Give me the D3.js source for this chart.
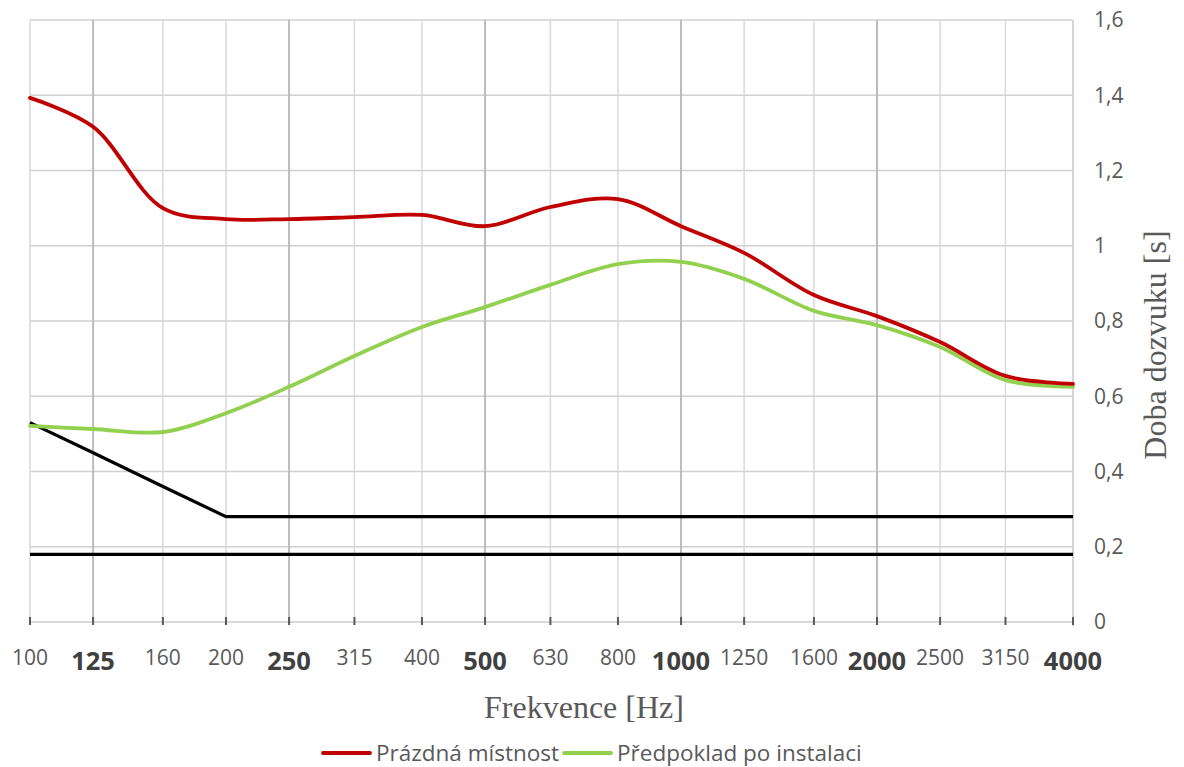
<!DOCTYPE html>
<html>
<head>
<meta charset="utf-8">
<script src="https://cdn.jsdelivr.net/npm/d3@7"></script>
<style>
  body { margin: 0; background: #fff; }
  svg { display: block; }
</style>
</head>
<body>
<svg id="chart" width="1184" height="767"></svg>
<script>
// ---- data ----
const frequencies = [100, 125, 160, 200, 250, 315, 400, 500, 630, 800, 1000, 1250, 1600, 2000, 2500, 3150, 4000];
const boldFrequencies = [125, 250, 500, 1000, 2000, 4000];
const emptyRoom = [1.393, 1.316, 1.10, 1.071, 1.071, 1.076, 1.082, 1.052, 1.103, 1.124, 1.052, 0.981, 0.869, 0.813, 0.744, 0.654, 0.633];
const afterInstall = [0.521, 0.513, 0.505, 0.555, 0.625, 0.707, 0.784, 0.837, 0.896, 0.951, 0.957, 0.912, 0.827, 0.789, 0.731, 0.643, 0.625];
const limitUpper = [0.53, 0.45, 0.36, 0.28, 0.28, 0.28, 0.28, 0.28, 0.28, 0.28, 0.28, 0.28, 0.28, 0.28, 0.28, 0.28, 0.28];
const limitLower = [0.18, 0.18, 0.18, 0.18, 0.18, 0.18, 0.18, 0.18, 0.18, 0.18, 0.18, 0.18, 0.18, 0.18, 0.18, 0.18, 0.18];
const yTicks = [0, 0.2, 0.4, 0.6, 0.8, 1, 1.2, 1.4, 1.6];
const xTitle = "Frekvence [Hz]";
const yTitle = "Doba dozvuku [s]";
const legendLabels = ["Prázdná místnost", "Předpoklad po instalaci"];

(function () {
// ---- layout ----
const svg = d3.select("#chart");
const pL = 30, pR = 1073, pT = 20, pB = 622;
const x = d3.scaleLog().domain([100, 4000]).range([pL, pR]);
const y = d3.scaleLinear().domain([0, 1.6]).range([pB, pT]);
const labelColor = "#595959";
const isBold = d => boldFrequencies.includes(d);

// horizontal grid
svg.append("g").selectAll("line").data(yTicks).join("line")
  .attr("x1", pL).attr("x2", pR)
  .attr("y1", d => y(d)).attr("y2", d => y(d))
  .attr("stroke", "#d0d0d0").attr("stroke-width", 1.5);

// vertical grid
svg.append("g").selectAll("line").data(frequencies).join("line")
  .attr("x1", d => x(d)).attr("x2", d => x(d))
  .attr("y1", pT).attr("y2", pB)
  .attr("stroke", d => isBold(d) && d !== 4000 ? "#bcbcbc" : "#d9d9d9")
  .attr("stroke-width", d => isBold(d) && d !== 4000 ? 2 : 1.5);

// right axis line
svg.append("line").attr("x1", pR).attr("x2", pR).attr("y1", pT).attr("y2", pB + 4)
  .attr("stroke", "#d0d0d0").attr("stroke-width", 1.5);

// bottom axis line
svg.append("line").attr("x1", pL).attr("x2", pR).attr("y1", pB).attr("y2", pB)
  .attr("stroke", "#d9d9d9").attr("stroke-width", 1.5);

// bottom ticks
svg.append("g").selectAll("line").data(frequencies).join("line")
  .attr("x1", d => x(d)).attr("x2", d => x(d))
  .attr("y1", pB - 5).attr("y2", pB + 3)
  .attr("stroke", "#595959").attr("stroke-width", 2);

// x labels
svg.append("g").selectAll("text").data(frequencies).join("text")
  .attr("x", d => x(d))
  .attr("y", d => isBold(d) ? 670 : 665)
  .attr("text-anchor", "middle")
  .attr("font-family", "'Open Sans', sans-serif")
  .attr("font-size", d => isBold(d) ? 25.5 : 21)
  .attr("font-weight", d => isBold(d) ? "bold" : "normal")
  .attr("fill", d => isBold(d) ? "#404040" : labelColor)
  .text(d => d);

// y labels
svg.append("g").selectAll("text").data(yTicks).join("text")
  .attr("x", 1094)
  .attr("y", d => y(d))
  .attr("dy", "0.35em")
  .attr("font-family", "'Open Sans', sans-serif")
  .attr("font-size", 21)
  .attr("fill", labelColor)
  .text(d => String(d).replace(".", ","));

// axis titles
svg.append("text").attr("x", 584).attr("y", 718)
  .attr("text-anchor", "middle")
  .attr("font-family", "'Liberation Serif', serif").attr("font-size", 32)
  .attr("fill", labelColor).text(xTitle);

svg.append("text")
  .attr("transform", "translate(1166,345) rotate(-90)")
  .attr("text-anchor", "middle")
  .attr("font-family", "'Liberation Serif', serif").attr("font-size", 32)
  .attr("fill", labelColor).text(yTitle);

// series
const smooth = d3.line().x((d, i) => x(frequencies[i])).y(d => y(d)).curve(d3.curveCatmullRom.alpha(0.5));
const straight = d3.line().x((d, i) => x(frequencies[i])).y(d => y(d));

svg.append("path").datum(limitLower).attr("d", straight)
  .attr("fill", "none").attr("stroke", "#000").attr("stroke-width", 3.2);
svg.append("path").datum(limitUpper).attr("d", straight)
  .attr("fill", "none").attr("stroke", "#000").attr("stroke-width", 3.2);
svg.append("path").datum(afterInstall).attr("d", smooth)
  .attr("fill", "none").attr("stroke", "#92D050").attr("stroke-width", 3.8).attr("stroke-linecap", "round");
svg.append("path").datum(emptyRoom).attr("d", smooth)
  .attr("fill", "none").attr("stroke", "#C00000").attr("stroke-width", 3.8).attr("stroke-linecap", "round");

// legend
const legendColors = ["#C00000", "#92D050"];
const lg = svg.append("g");
let cx = 323;
legendLabels.forEach((lab, i) => {
  lg.append("line").attr("x1", cx).attr("x2", cx + 47)
    .attr("y1", 753).attr("y2", 753)
    .attr("stroke", legendColors[i]).attr("stroke-width", 3.8).attr("stroke-linecap", "round");
  const t = lg.append("text").attr("x", cx + 53).attr("y", 753).attr("dy", "0.35em")
    .attr("font-family", "'Open Sans', sans-serif").attr("font-size", 22.5)
    .attr("fill", labelColor).text(lab);
  cx = cx + 53 + t.node().getComputedTextLength() + 5;
});
})();
</script>
</body>
</html>
